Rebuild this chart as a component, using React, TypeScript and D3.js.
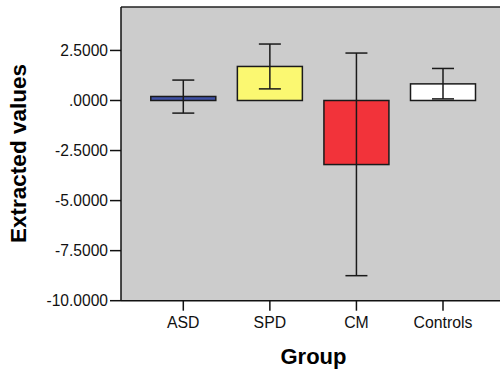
import React from "react";
import * as d3 from "d3";

const categories = ["ASD", "SPD", "CM", "Controls"];
const means = [0.2, 1.7, -3.2, 0.83];
const upper = [1.02, 2.82, 2.37, 1.6];
const lower = [-0.63, 0.58, -8.75, 0.08];
const colors = ["#3F51A5", "#FBF871", "#F2333A", "#FFFFFF"];
const yTicks = [2.5, 0, -2.5, -5, -7.5, -10];
const yTickLabels = ["2.5000", ".0000", "-2.5000", "-5.0000", "-7.5000", "-10.0000"];

export default function App() {
  const W = 501, H = 370;
  const left = 121, right = 500, top = 7, bottom = 300.7;
  const y = d3.scaleLinear().domain([-10, 4.67]).range([bottom, top]);
  const x = d3.scalePoint<string>().domain(categories).range([183.3, 443]);
  const barW = 65;
  const capW = 22;
  const font = "Arial, 'Liberation Sans', sans-serif";
  return (
    <svg width={W} height={H} style={{ position: "absolute", left: 0, top: 0 }}>
      <rect x={0} y={0} width={W} height={H} fill="#fff" />
      <rect x={left} y={top} width={right - left} height={bottom - top} fill="#CCCCCC" />
      <line x1={left} x2={right} y1={top} y2={top} stroke="#222" strokeWidth={1.5} />
      {categories.map((c, i) => {
        const cx = x(c)!;
        const y0 = y(0), y1 = y(means[i]);
        return (
          <g key={c}>
            <rect x={cx - barW / 2} y={Math.min(y0, y1)} width={barW} height={Math.abs(y1 - y0)}
              fill={colors[i]} stroke="#1a1a1a" strokeWidth={1.5} />
            <line x1={cx} x2={cx} y1={y(upper[i])} y2={y(lower[i])} stroke="#1a1a1a" strokeWidth={1.5} />
            <line x1={cx - capW / 2} x2={cx + capW / 2} y1={y(upper[i])} y2={y(upper[i])} stroke="#1a1a1a" strokeWidth={1.5} />
            <line x1={cx - capW / 2} x2={cx + capW / 2} y1={y(lower[i])} y2={y(lower[i])} stroke="#1a1a1a" strokeWidth={1.5} />
          </g>
        );
      })}
      <line x1={left} x2={left} y1={top} y2={bottom} stroke="#111" strokeWidth={1.5} />
      <line x1={left} x2={right} y1={bottom} y2={bottom} stroke="#111" strokeWidth={1.5} />
      {yTicks.map((t, i) => (
        <g key={t}>
          <line x1={left - 11} x2={left} y1={y(t)} y2={y(t)} stroke="#111" strokeWidth={1.5} />
          <text x={left - 13} y={y(t)} dy="0.35em" textAnchor="end" fontFamily={font} fontSize={15.6} fill="#111">
            {yTickLabels[i]}
          </text>
        </g>
      ))}
      {categories.map((c) => (
        <g key={"t" + c}>
          <line x1={x(c)!} x2={x(c)!} y1={bottom} y2={bottom + 10} stroke="#111" strokeWidth={1.5} />
          <text x={x(c)!} y={bottom + 27} textAnchor="middle" fontFamily={font} fontSize={15.8} fill="#111">
            {c}
          </text>
        </g>
      ))}
      <text x={313.5} y={363.5} textAnchor="middle" fontFamily={font} fontSize={22} fontWeight="bold" fill="#000">
        Group
      </text>
      <text transform="translate(25.5,153.5) rotate(-90)" textAnchor="middle" fontFamily={font} fontSize={22.5} fontWeight="bold" fill="#000">
        Extracted values
      </text>
    </svg>
  );
}
